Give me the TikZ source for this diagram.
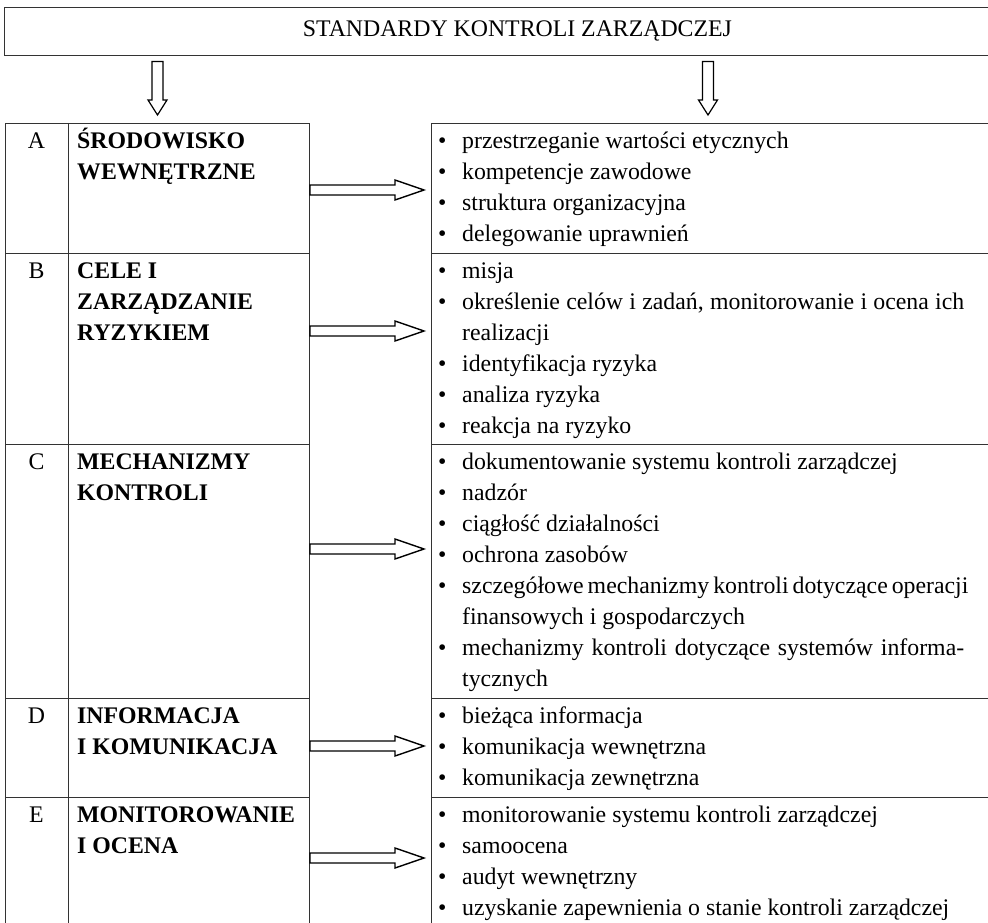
\documentclass[tikz,border=0pt]{standalone}
\usepackage{fontspec}
\setmainfont{Liberation Serif}
\newcommand\bul{\strut\makebox[24pt][l]{\textbullet}}
\newcommand\cont{\strut\hspace*{24pt}}
\newcommand\just[1]{\makebox[502pt][s]{#1}}
\begin{document}
\begin{tikzpicture}[x=1pt,y=-1pt,
  line/.style={draw=black!80, line width=0.9pt},
  txt/.style={font=\fontsize{23.8}{31}\selectfont, inner sep=0pt, text=black},
  btxt/.style={font=\fontsize{23.8}{31}\selectfont\bfseries, inner sep=0pt, text=black, align=left, anchor=north west},
  rtxt/.style={font=\fontsize{23.8}{31}\selectfont, inner sep=0pt, text=black, align=left, anchor=north west},
  hollow/.style={draw=black, line width=1.4pt, fill=white, line join=miter},
]
\useasboundingbox (0,0) rectangle (988,923);
\clip (0,0) rectangle (988,923);

% title box
\node[line, txt, minimum width=1026pt, minimum height=48pt, anchor=north west] (title) at (4,7) {STANDARDY KONTROLI ZARZĄDCZEJ};

% tables
\draw[line] (5,123) rectangle (309,960);
\draw[line] (68,123) -- (68,960);
\draw[line] (431,123) rectangle (1030,960);
\foreach \y in {253,444,698,797}{
  \draw[line] (5,\y) -- (309,\y);
  \draw[line] (431,\y) -- (1030,\y);
}

% letters
\node[txt, anchor=base] (lA) at (36.5,148.5) {A};
\node[txt, anchor=base] (lB) at (36.5,278.5) {B};
\node[txt, anchor=base] (lC) at (36.5,469.5) {C};
\node[txt, anchor=base] (lD) at (36.5,723.5) {D};
\node[txt, anchor=base] (lE) at (36.5,822.5) {E};

% names
\node[btxt] (nA) at (77,126.8) {\strut ŚRODOWISKO\\WEWNĘTRZNE};
\node[btxt] (nB) at (77,256.8) {\strut CELE I\\ZARZĄDZANIE\\RYZYKIEM};
\node[btxt] (nC) at (77,447.8) {\strut MECHANIZMY\\KONTROLI};
\node[btxt] (nD) at (77,701.8) {\strut INFORMACJA\\I KOMUNIKACJA};
\node[btxt] (nE) at (77,800.8) {\strut MONITOROWANIE\\I OCENA};

% right column
\node[rtxt] (rA) at (438,126.8) {\bul przestrzeganie wartości etycznych\\
\bul kompetencje zawodowe\\
\bul struktura organizacyjna\\
\bul delegowanie uprawnień};
\node[rtxt] (rB) at (438,256.8) {\bul misja\\
\bul \just{określenie celów i zadań, monitorowanie i ocena ich}\\
\cont realizacji\\
\bul identyfikacja ryzyka\\
\bul analiza ryzyka\\
\bul reakcja na ryzyko};
\node[rtxt] (rC) at (438,447.8) {\bul dokumentowanie systemu kontroli zarządczej\\
\bul nadzór\\
\bul ciągłość działalności\\
\bul ochrona zasobów\\
\bul \just{szczegółowe mechanizmy kontroli dotyczące operacji}\\
\cont finansowych i gospodarczych\\
\bul \just{mechanizmy kontroli dotyczące systemów informa-}\\
\cont tycznych};
\node[rtxt] (rD) at (438,701.8) {\bul bieżąca informacja\\
\bul komunikacja wewnętrzna\\
\bul komunikacja zewnętrzna};
\node[rtxt] (rE) at (438,800.8) {\bul monitorowanie systemu kontroli zarządczej\\
\bul samoocena\\
\bul audyt wewnętrzny\\
\bul uzyskanie zapewnienia o stanie kontroli zarządczej};

% down arrows
\coordinate (dL) at (157.5,61.5);
\coordinate (dR) at (708,61.5);
\foreach \c in {dL,dR}{
  \draw[hollow, line width=1.2pt] (\c) ++(-5.5,0) -- ++(11,0) -- ++(0,38.5) -- ++(4,0) -- ++(-9.5,15) -- ++(-9.5,-15) -- ++(4,0) -- cycle;
}

% horizontal arrows
\coordinate (hA) at (310,190);
\coordinate (hB) at (310,331);
\coordinate (hC) at (310,549);
\coordinate (hD) at (310,746);
\coordinate (hE) at (310,858);
\foreach \c in {hA,hB,hC,hD,hE}{
  \draw[hollow] (\c) ++(0,-5) -- ++(85,0) -- ++(0,-5) -- ++(29,10) -- ++(-29,10) -- ++(0,-5) -- ++(-85,0) -- cycle;
}
\end{tikzpicture}
\end{document}
